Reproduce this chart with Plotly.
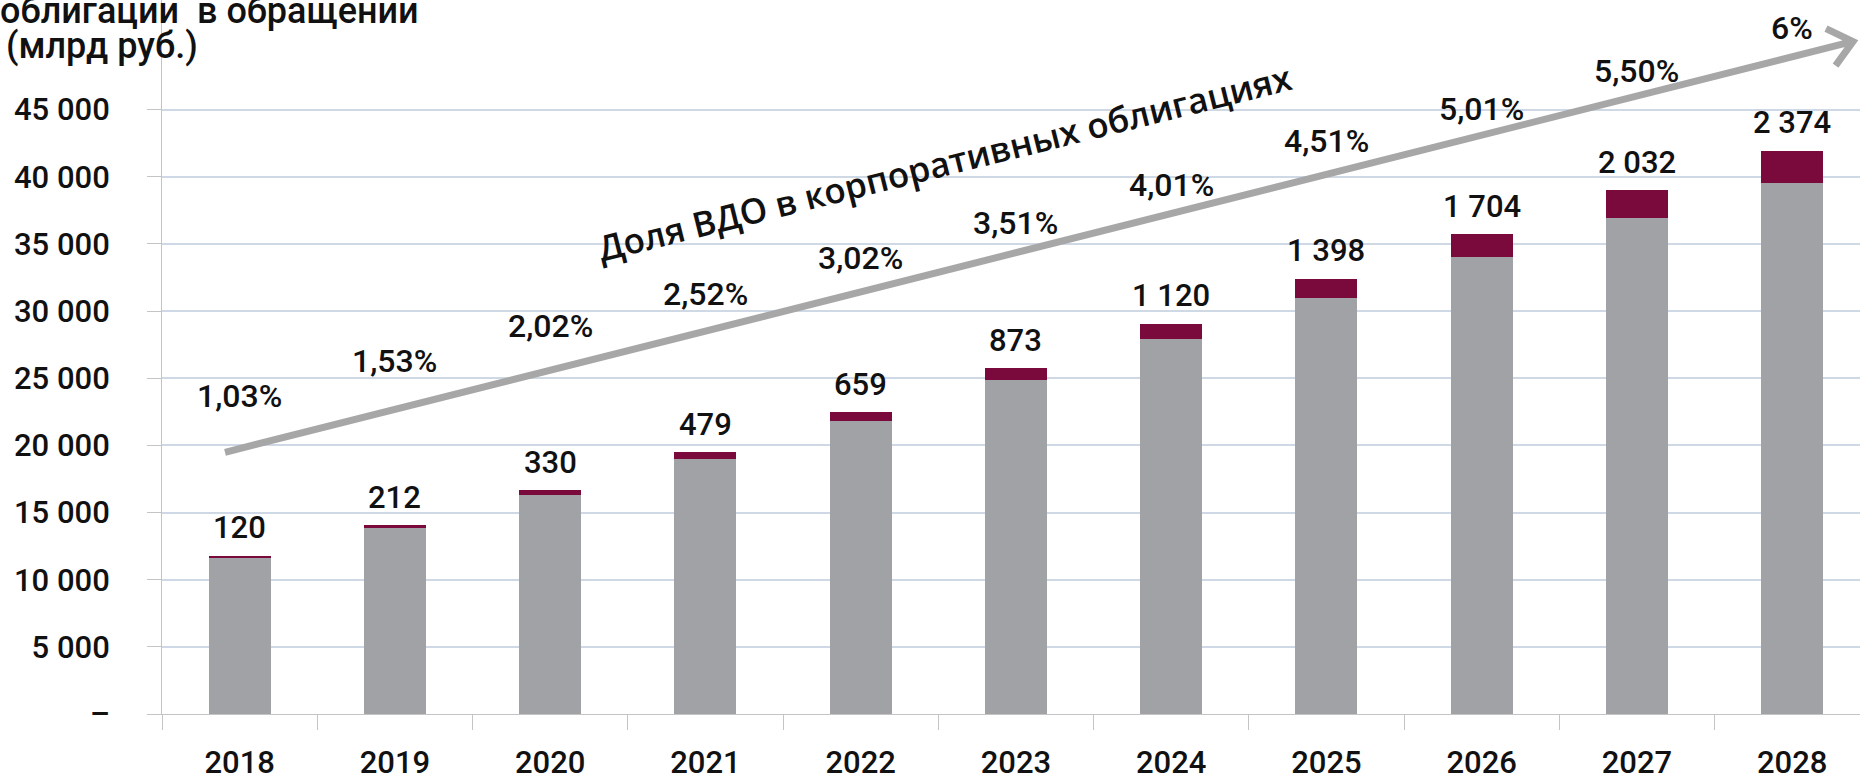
import plotly.graph_objects as go
import math

years = ["2018", "2019", "2020", "2021", "2022", "2023", "2024", "2025", "2026", "2027", "2028"]
corp_bonds = [11650, 13860, 16340, 19010, 21820, 24870, 27930, 31000, 34010, 36950, 39570]
hy_bonds = [120, 212, 330, 479, 659, 873, 1120, 1398, 1704, 2032, 2374]
hy_labels = ["120", "212", "330", "479", "659", "873", "1 120", "1 398", "1 704", "2 032", "2 374"]
share_labels = ["1,03%", "1,53%", "2,02%", "2,52%", "3,02%", "3,51%", "4,01%", "4,51%", "5,01%", "5,50%", "6%"]
share_label_y = [23700, 26300, 28900, 31250, 33950, 36550, 39400, 42650, 45050, 47850, 51100]
tick_vals = [0, 5000, 10000, 15000, 20000, 25000, 30000, 35000, 40000, 45000]
tick_text = ["–", "5 000", "10 000", "15 000", "20 000", "25 000", "30 000", "35 000", "40 000", "45 000"]

W, H = 1860, 781
ML, MR, MT, MB = 162, 0, 0, 58
PW, PH = W - ML - MR, H - MT - MB

GRAY = "#a1a2a5"
MAROON = "#7a0a3c"
FONT = "Roboto"

fig = go.Figure()
fig.add_trace(go.Bar(x=years, y=corp_bonds, marker=dict(color=GRAY, line=dict(width=0)), hoverinfo="skip"))
fig.add_trace(go.Bar(x=years, y=hy_bonds, marker=dict(color=MAROON, line=dict(width=0)), hoverinfo="skip"))

annotations = []
for i, (c, h, t) in enumerate(zip(corp_bonds, hy_bonds, hy_labels)):
    annotations.append(dict(xref="x", yref="y", x=i, y=c + h, text=t, showarrow=False,
                            yanchor="middle", yshift=28,
                            font=dict(family=FONT, size=31, color="#111111", weight=500)))
for i, (t, ly) in enumerate(zip(share_labels, share_label_y)):
    annotations.append(dict(xref="x", yref="y", x=i, y=ly, text=t, showarrow=False, yanchor="middle",
                            font=dict(family=FONT, size=32, color="#111111", weight=500)))

def px2paper(px, py):
    return (px - ML) / PW, (H - MB - py) / PH

# title (partially cut at top)
tx, ty = px2paper(-2, 11)
annotations.append(dict(xref="paper", yref="paper", x=tx, y=ty, xanchor="left", yanchor="middle",
                        text="облигации  в обращении", showarrow=False,
                        font=dict(family=FONT, size=36, color="#111111", weight=500)))
tx, ty = px2paper(4, 47)
annotations.append(dict(xref="paper", yref="paper", x=tx, y=ty, xanchor="left", yanchor="middle",
                        text="(млрд руб.)", showarrow=False,
                        font=dict(family=FONT, size=36, color="#111111", weight=500)))

# rotated label along the arrow
rx, ry = px2paper(944, 165)
annotations.append(dict(xref="paper", yref="paper", x=rx, y=ry, xanchor="center", yanchor="middle",
                        text="Доля ВДО в корпоративных облигациях", showarrow=False, textangle=-14,
                        font=dict(family="Open Sans", size=35, color="#111111", weight=600)))

# arrow (decoration) in pixel space -> paper
sx, sy, ex, ey = 225, 458, 1853, 42
ang = math.atan2(ey - sy, ex - sx)
arm = 30
pts = []
for d in (+0.70, -0.70):
    a = ang + math.pi + d
    pts.append((ex + arm * math.cos(a), ey + arm * math.sin(a)))

def P(px, py):
    x, y = px2paper(px, py)
    return f"{x:.5f},{y:.5f}"

path = f"M {P(sx, sy)} L {P(ex, ey)} M {P(*pts[0])} L {P(ex, ey)} L {P(*pts[1])}"
shapes = [dict(type="path", xref="paper", yref="paper", path=path,
               line=dict(color="#a7a7a7", width=7))]

fig.update_layout(
    width=W, height=H,
    margin=dict(l=ML, r=MR, t=MT, b=MB, pad=0),
    barmode="stack", bargap=0.6,
    showlegend=False,
    plot_bgcolor="white", paper_bgcolor="white",
    annotations=annotations, shapes=shapes,
    xaxis=dict(type="category", range=[-0.5, -0.5 + PW / 155.25], tickson="boundaries",
               ticks="outside", ticklen=15, tickcolor="#c4c4c4", tickwidth=1,
               showline=True, linecolor="#c4c4c4", linewidth=1, showgrid=False,
               tickfont=dict(family=FONT, size=31, color="#111111", weight=500),
               ticklabelstandoff=21),
    yaxis=dict(range=[0, PH / 68 * 5000], tickvals=tick_vals, ticktext=tick_text,
               ticks="outside", ticklen=14, tickcolor="#c4c4c4",
               showline=True, linecolor="#c4c4c4", linewidth=1,
               showgrid=True, gridcolor="#cfd9e5", gridwidth=1.5, zeroline=False,
               tickfont=dict(family=FONT, size=31, color="#111111", weight=500),
               ticklabelstandoff=31),
)

fig.write_html("out.html", config={"displayModeBar": False},
               post_script="document.body.style.margin='0px';")
